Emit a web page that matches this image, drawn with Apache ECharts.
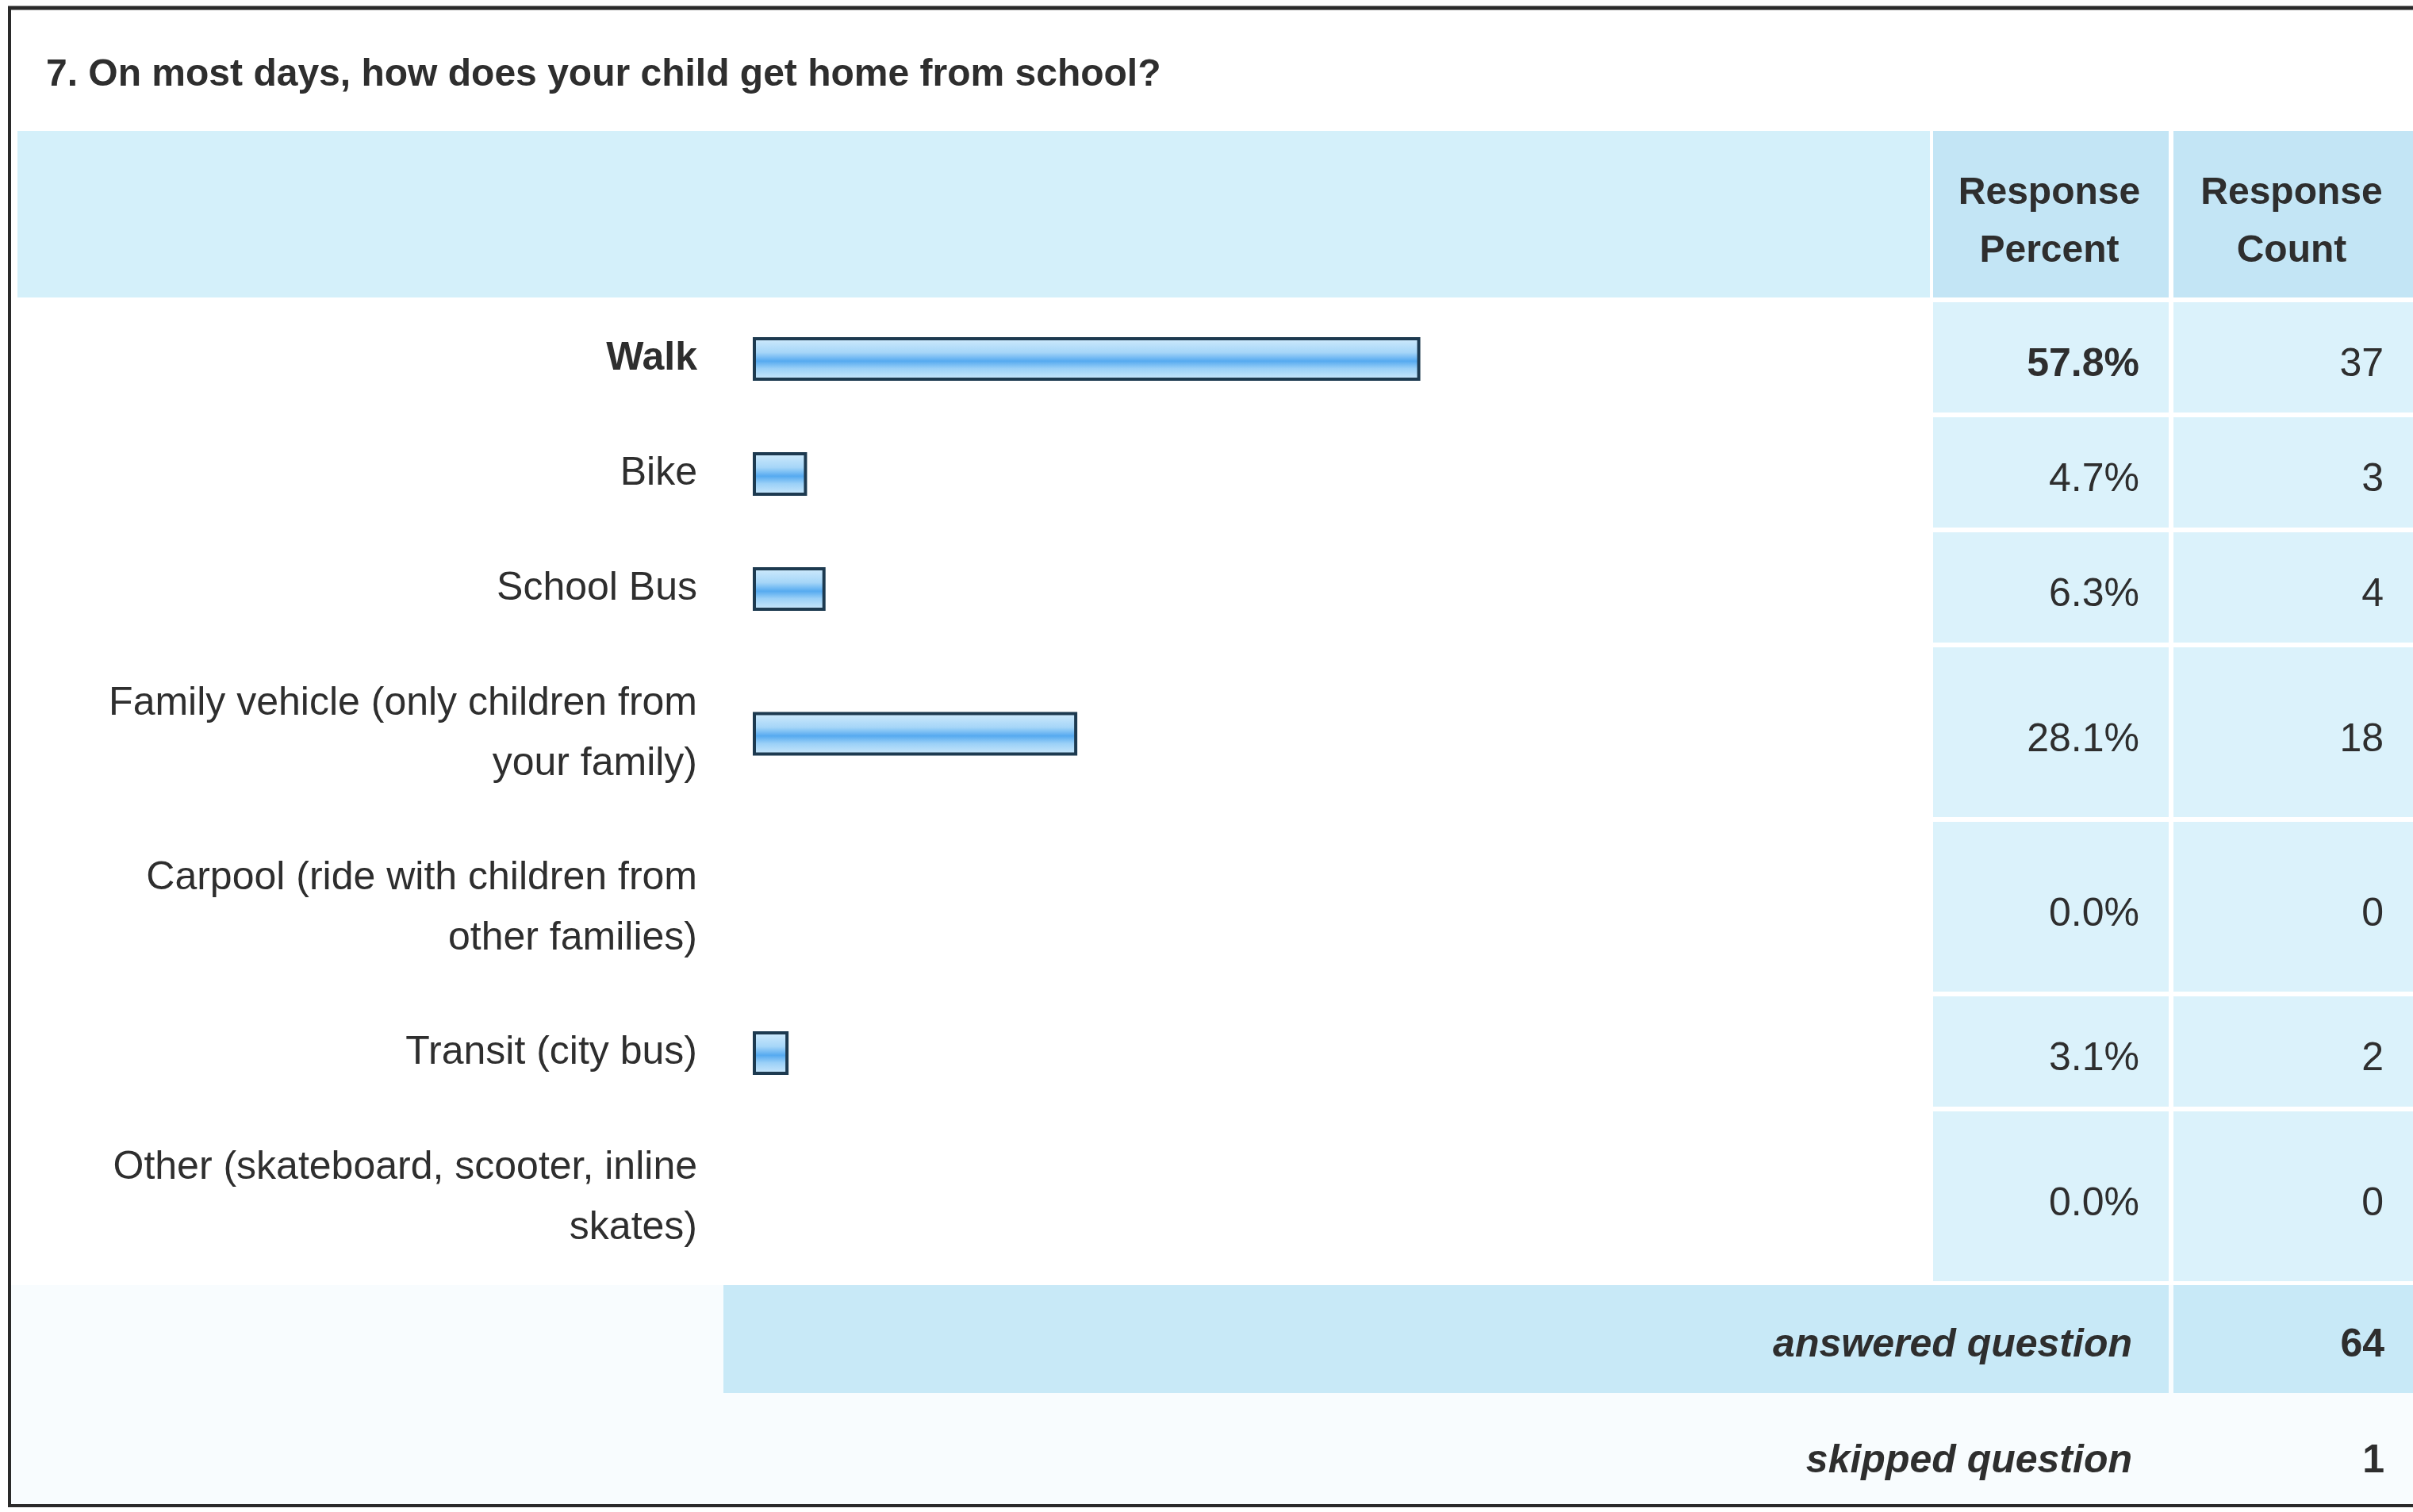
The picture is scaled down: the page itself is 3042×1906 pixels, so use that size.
<!DOCTYPE html>
<html>
<head>
<meta charset="utf-8">
<script src="https://cdn.jsdelivr.net/npm/echarts@6/dist/echarts.min.js"></script>
<style>html,body{margin:0;padding:0;background:#fff}#c{width:3042px;height:1906px}</style>
</head>
<body>
<div id="c"></div>
<script>
// ---- data ----
const title = '7. On most days, how does your child get home from school?';
const categories = [
  'Walk',
  'Bike',
  'School Bus',
  'Family vehicle (only children from\nyour family)',
  'Carpool (ride with children from\nother families)',
  'Transit (city bus)',
  'Other (skateboard, scooter, inline\nskates)'
];
const responsePercent = [57.8, 4.7, 6.3, 28.1, 0.0, 3.1, 0.0];
const responseCount = [37, 3, 4, 18, 0, 2, 0];
const headerLabels = ['Response\nPercent', 'Response\nCount'];
const summaryLabels = ['answered question', 'skipped question'];
const summaryValues = [64, 1];

// ---- layout / style ----
const FONT = '"Liberation Sans", Arial, sans-serif';
const TEXT = '#2e2e2e';
const BAR_LEFT = 949, BAR_WIDTH = 1456;
const PCT_X = 2437, PCT_W = 297, CNT_X = 2740, CNT_W = 302;
const BODY_TOP = 378;
const ROW_H1 = 145, ROW_H2 = 220;
const GRID_SHIFT = 2;
const maxPct = Math.max(...responsePercent);

const chart = echarts.init(document.getElementById('c'), null, {renderer: 'canvas'});

const grids = [], xAxes = [], yAxes = [], series = [];
const graphics = [];

// frame and backgrounds
graphics.push({type: 'rect', shape: {x: 14, y: 1620, width: 3042 - 14, height: 276}, style: {fill: '#f8fcfe'}, z: -10});
graphics.push({type: 'rect', shape: {x: 22, y: 165, width: PCT_X - 4 - 22, height: 210}, style: {fill: '#d4f0fa'}, z: -5});
graphics.push({type: 'rect', shape: {x: PCT_X, y: 165, width: PCT_W, height: 210}, style: {fill: '#c3e5f5'}, z: -5});
graphics.push({type: 'rect', shape: {x: CNT_X, y: 165, width: CNT_W, height: 210}, style: {fill: '#c3e5f5'}, z: -5});
headerLabels.forEach((t, k) => {
  const cx = k === 0 ? PCT_X + PCT_W / 2 : CNT_X + CNT_W / 2;
  graphics.push({type: 'text', x: cx - 2, y: 280, style: {text: t, fontFamily: FONT, fontSize: 48, fontWeight: 'bold', lineHeight: 73, fill: TEXT, align: 'center', verticalAlign: 'middle'}, z: 5});
});

let y = BODY_TOP;
categories.forEach((cat, i) => {
  const lines = cat.split('\n').length;
  const h = lines > 1 ? ROW_H2 : ROW_H1;
  const bold = responsePercent[i] === maxPct;
  // table cells
  graphics.push({type: 'rect', shape: {x: PCT_X, y: y + 3, width: PCT_W, height: h - 6}, style: {fill: '#dbf2fb'}, z: -5});
  graphics.push({type: 'rect', shape: {x: CNT_X, y: y + 3, width: CNT_W, height: h - 6}, style: {fill: '#dbf2fb'}, z: -5});

  grids.push({left: BAR_LEFT, width: BAR_WIDTH, top: y + GRID_SHIFT, height: h, show: false});
  xAxes.push({gridIndex: i, type: 'value', min: 0, max: 100, show: false});
  const hide = {axisLine: {show: false}, axisTick: {show: false}, splitLine: {show: false}};
  yAxes.push(Object.assign({gridIndex: i, type: 'category', data: [cat], position: 'left',
    axisLabel: {fontFamily: FONT, fontSize: 50, lineHeight: 76, color: TEXT, align: 'right', margin: 70,
      fontWeight: bold ? 'bold' : 'normal'}}, hide));
  yAxes.push(Object.assign({gridIndex: i, type: 'category', data: [responsePercent[i].toFixed(1) + '%'], position: 'right',
    axisLabel: {fontFamily: FONT, fontSize: 50, color: TEXT, align: 'right', verticalAlign: 'top', lineHeight: 16,
      margin: 2697 - BAR_LEFT - BAR_WIDTH, fontWeight: bold ? 'bold' : 'normal'}}, hide));
  yAxes.push(Object.assign({gridIndex: i, type: 'category', data: [String(responseCount[i])], position: 'right',
    axisLabel: {fontFamily: FONT, fontSize: 50, color: TEXT, align: 'right', verticalAlign: 'top', lineHeight: 16,
      margin: 3005 - BAR_LEFT - BAR_WIDTH}}, hide));

  series.push({
    type: 'bar', xAxisIndex: i, yAxisIndex: i * 3, barWidth: 55,
    data: [{value: responsePercent[i], itemStyle: responsePercent[i] === 0 ? {borderWidth: 0, opacity: 0} : {}}],
    itemStyle: {
      color: new echarts.graphic.LinearGradient(0, 0, 0, 1, [
        {offset: 0, color: '#d3ecfc'},
        {offset: 0.35, color: '#a6d6f8'},
        {offset: 0.55, color: '#56aaf0'},
        {offset: 0.72, color: '#9ad0f7'},
        {offset: 1, color: '#d0eafb'}
      ]),
      borderColor: '#1d3a50', borderWidth: 4
    }
  });
  y += h;
});

// summary rows
const ANS_TOP = 1620, ANS_H = 136;
graphics.push({type: 'rect', shape: {x: 912, y: ANS_TOP, width: PCT_X + PCT_W - 912, height: ANS_H}, style: {fill: '#c8e9f7'}, z: -5});
graphics.push({type: 'rect', shape: {x: CNT_X, y: ANS_TOP, width: CNT_W, height: ANS_H}, style: {fill: '#c8e9f7'}, z: -5});
const summaryY = [1696, 1842];
summaryLabels.forEach((t, k) => {
  graphics.push({type: 'text', x: 2688, y: summaryY[k], style: {text: t, fontFamily: FONT, fontSize: 50, fontWeight: 'bold', fontStyle: 'italic', fill: TEXT, align: 'right', verticalAlign: 'middle'}, z: 5});
  graphics.push({type: 'text', x: 3006, y: summaryY[k], style: {text: String(summaryValues[k]), fontFamily: FONT, fontSize: 50, fontWeight: 'bold', fill: TEXT, align: 'right', verticalAlign: 'middle'}, z: 5});
});

// title
graphics.push({type: 'text', x: 58, y: 95, style: {text: title, fontFamily: FONT, fontSize: 48, fontWeight: 'bold', fill: TEXT, align: 'left', verticalAlign: 'middle'}, z: 5});

// frame lines
graphics.push({type: 'line', shape: {x1: 10, y1: 10, x2: 3042, y2: 10}, style: {stroke: '#2a2a2a', lineWidth: 5}, z: 6});
graphics.push({type: 'line', shape: {x1: 12, y1: 8, x2: 12, y2: 1900}, style: {stroke: '#2a2a2a', lineWidth: 4}, z: 6});
graphics.push({type: 'line', shape: {x1: 10, y1: 1898, x2: 3042, y2: 1898}, style: {stroke: '#2a2a2a', lineWidth: 4}, z: 6});

chart.setOption({
  backgroundColor: '#ffffff',
  animation: false,
  grid: grids,
  xAxis: xAxes,
  yAxis: yAxes,
  series: series,
  graphic: graphics
});
</script>
</body>
</html>
